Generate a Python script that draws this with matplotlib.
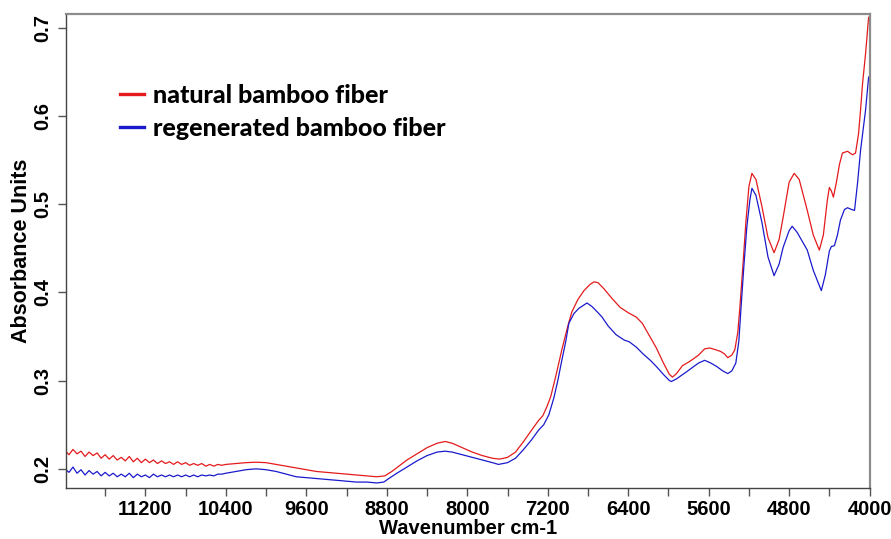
"""NIR absorbance spectra: natural vs regenerated bamboo fiber."""

import matplotlib
matplotlib.use("Agg")
import matplotlib.pyplot as plt
from matplotlib.ticker import FixedLocator

# --- values --------------------------------------------------------------------
NATURAL_WN = [
    12000, 11960, 11920, 11880, 11840, 11800, 11760, 11720, 11680, 11640,
    11600, 11560, 11520, 11480, 11440, 11400, 11360, 11320, 11280, 11240,
    11200, 11160, 11120, 11080, 11040, 11000, 10960, 10920, 10880, 10840,
    10800, 10760, 10720, 10680, 10640, 10600, 10560, 10520, 10480, 10440,
    10400, 10300, 10200, 10100, 10000, 9900, 9800, 9700, 9600, 9500,
    9400, 9300, 9200, 9100, 9000, 8900, 8820, 8750, 8680, 8600,
    8500, 8400, 8300, 8220, 8150, 8050, 7950, 7850, 7750, 7680,
    7600, 7520, 7440, 7360, 7290, 7250, 7210, 7170, 7120, 7060,
    7000, 6960, 6900, 6840, 6780, 6740, 6700, 6640, 6560, 6480,
    6400, 6320, 6260, 6200, 6120, 6050, 5990, 5960, 5920, 5860,
    5800, 5760, 5700, 5640, 5590, 5530, 5480, 5440, 5410, 5370,
    5340, 5310, 5290, 5260, 5230, 5200, 5170, 5130, 5070, 5010,
    4950, 4900, 4860, 4800, 4750, 4700, 4620, 4560, 4500, 4460,
    4420, 4400, 4380, 4360, 4330, 4300, 4270, 4220, 4170, 4140,
    4110, 4090, 4070, 4040, 4010, 4000,
]
NATURAL_ABS = [
    0.221, 0.216, 0.222, 0.217, 0.220, 0.214, 0.219, 0.215, 0.218, 0.212,
    0.216, 0.211, 0.215, 0.210, 0.213, 0.209, 0.214, 0.208, 0.212, 0.207,
    0.211, 0.207, 0.210, 0.206, 0.209, 0.206, 0.208, 0.205, 0.208, 0.205,
    0.207, 0.204, 0.206, 0.204, 0.206, 0.203, 0.205, 0.203, 0.205, 0.204,
    0.205, 0.206, 0.207, 0.2075, 0.207, 0.205, 0.203, 0.201, 0.199, 0.197,
    0.196, 0.195, 0.194, 0.193, 0.192, 0.191, 0.192, 0.197, 0.203, 0.210,
    0.217, 0.224, 0.229, 0.231, 0.229, 0.224, 0.219, 0.215, 0.212, 0.211,
    0.213, 0.219, 0.231, 0.244, 0.255, 0.260, 0.270, 0.282, 0.305, 0.335,
    0.362, 0.378, 0.392, 0.402, 0.409, 0.412, 0.411, 0.404, 0.393, 0.383,
    0.377, 0.372, 0.365, 0.353, 0.337, 0.320, 0.307, 0.304, 0.308, 0.317,
    0.321, 0.324, 0.329, 0.336, 0.337, 0.335, 0.333, 0.330, 0.326, 0.329,
    0.335, 0.355, 0.383, 0.430, 0.480, 0.520, 0.535, 0.528, 0.497, 0.462,
    0.445, 0.460, 0.485, 0.525, 0.535, 0.528, 0.493, 0.465, 0.448, 0.465,
    0.505, 0.519, 0.515, 0.508, 0.525, 0.545, 0.558, 0.560, 0.556, 0.558,
    0.580, 0.607, 0.637, 0.671, 0.712, 0.710,
]

REGEN_WN = [
    12000, 11960, 11920, 11880, 11840, 11800, 11760, 11720, 11680, 11640,
    11600, 11560, 11520, 11480, 11440, 11400, 11360, 11320, 11280, 11240,
    11200, 11160, 11120, 11080, 11040, 11000, 10960, 10920, 10880, 10840,
    10800, 10760, 10720, 10680, 10640, 10600, 10560, 10520, 10480, 10440,
    10400, 10300, 10200, 10100, 10000, 9900, 9800, 9700, 9600, 9500,
    9400, 9300, 9200, 9100, 9000, 8900, 8830, 8780, 8700, 8600,
    8500, 8400, 8300, 8220, 8150, 8050, 7950, 7850, 7750, 7690,
    7600, 7520, 7440, 7360, 7290, 7240, 7190, 7140, 7100, 7060,
    7020, 6990, 6940, 6890, 6810, 6760, 6700, 6660, 6600, 6520,
    6440, 6390, 6320, 6250, 6180, 6120, 6050, 5990, 5970, 5920,
    5820, 5760, 5700, 5640, 5580, 5520, 5460, 5410, 5370, 5330,
    5300, 5280, 5250, 5220, 5190, 5170, 5130, 5070, 5010, 4950,
    4900, 4860, 4800, 4770, 4720, 4620, 4560, 4480, 4440, 4400,
    4380, 4350, 4320, 4290, 4250, 4220, 4180, 4150, 4120, 4090,
    4040, 4010, 4000,
]
REGEN_ABS = [
    0.200, 0.196, 0.202, 0.195, 0.199, 0.193, 0.198, 0.194, 0.197, 0.192,
    0.196, 0.192, 0.195, 0.191, 0.194, 0.191, 0.195, 0.190, 0.194, 0.191,
    0.193, 0.190, 0.194, 0.191, 0.193, 0.191, 0.193, 0.191, 0.193, 0.191,
    0.193, 0.191, 0.193, 0.191, 0.193, 0.192, 0.193, 0.192, 0.194, 0.194,
    0.195, 0.197, 0.199, 0.200, 0.199, 0.197, 0.194, 0.191, 0.190, 0.189,
    0.188, 0.187, 0.186, 0.185, 0.185, 0.184, 0.185, 0.189, 0.195, 0.202,
    0.209, 0.215, 0.219, 0.220, 0.219, 0.216, 0.213, 0.210, 0.207, 0.205,
    0.207, 0.212, 0.222, 0.233, 0.244, 0.250, 0.261, 0.280, 0.300, 0.323,
    0.345, 0.365, 0.376, 0.382, 0.388, 0.384, 0.377, 0.372, 0.362, 0.352,
    0.346, 0.344, 0.338, 0.330, 0.323, 0.316, 0.307, 0.300, 0.299, 0.302,
    0.310, 0.315, 0.320, 0.323, 0.320, 0.316, 0.311, 0.308, 0.311, 0.320,
    0.345, 0.380, 0.430, 0.475, 0.505, 0.518, 0.510, 0.479, 0.440, 0.419,
    0.432, 0.451, 0.470, 0.475, 0.468, 0.448, 0.425, 0.402, 0.420, 0.447,
    0.452, 0.453, 0.465, 0.482, 0.494, 0.496, 0.494, 0.493, 0.524, 0.561,
    0.607, 0.644, 0.645,
]

LABELS = ["natural bamboo fiber", "regenerated bamboo fiber"]
COLORS = ["#e41a1c", "#1a1acc"]

X_MAJOR = [11200, 10400, 9600, 8800, 8000, 7200, 6400, 5600, 4800, 4000]
X_MINOR = [11600, 10800, 10000, 9200, 8400, 7600, 6800, 6000, 5200, 4400]
Y_TICKS = [0.2, 0.3, 0.4, 0.5, 0.6, 0.7]

# --------------------------------------------------------------------------- #
plt.rcParams["font.family"] = ["Liberation Sans", "DejaVu Sans"]

fig = plt.figure(figsize=(8.91, 5.39), dpi=100)
ax = fig.add_axes([0.074, 0.095, 0.902, 0.879])

ax.plot(NATURAL_WN, NATURAL_ABS, color=COLORS[0], lw=0.9, label=LABELS[0])
ax.plot(REGEN_WN, REGEN_ABS, color=COLORS[1], lw=0.9, label=LABELS[1])

ax.set_xlim(11990, 4000)
ax.set_ylim(0.1785, 0.7156)

ax.xaxis.set_major_locator(FixedLocator(X_MAJOR))
ax.xaxis.set_minor_locator(FixedLocator(X_MINOR))
ax.yaxis.set_major_locator(FixedLocator(Y_TICKS))
ax.set_xticklabels([str(v) for v in X_MAJOR])
ax.set_yticklabels([f"{v:.1f}" for v in Y_TICKS], rotation=90, va="center")

ax.tick_params(which="both", direction="out", length=6, width=1,
               color="#555555", labelsize=14.5)
for lab in ax.get_xticklabels() + ax.get_yticklabels():
    lab.set_fontweight("bold")
ax.tick_params(axis="x", pad=3)
ax.tick_params(axis="y", pad=4)

for side in ["top", "right"]:
    ax.spines[side].set_color("#8c8c8c")
    ax.spines[side].set_linewidth(1.6)
for side in ["left", "bottom"]:
    ax.spines[side].set_color("#444444")
    ax.spines[side].set_linewidth(1.0)

ax.set_xlabel("Wavenumber cm-1", fontsize=14.5, fontweight="bold", labelpad=0)
ax.set_ylabel("Absorbance Units", fontsize=15.5, fontweight="bold", labelpad=1)

leg = ax.legend(loc="upper left", bbox_to_anchor=(0.067, 0.852), frameon=False,
                borderpad=0, borderaxespad=0,
                handlelength=0.95, handletextpad=0.38, labelspacing=0.38,
                prop={"family": "Lato", "weight": "black", "size": 18})
for h in leg.get_lines():
    h.set_linewidth(2.4)

fig.savefig("out.png", dpi=100)
